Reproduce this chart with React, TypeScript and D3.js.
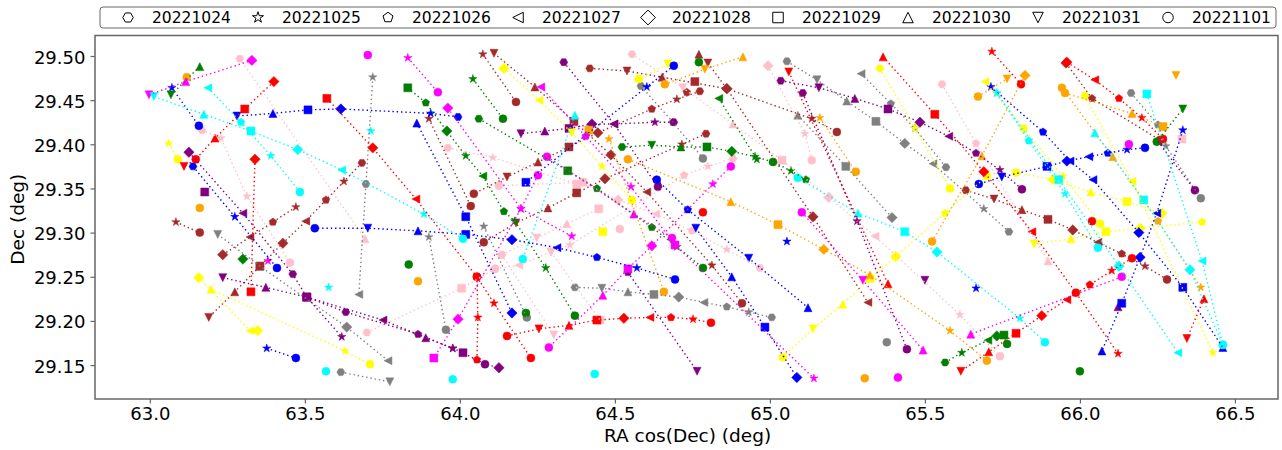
import React, { useEffect, useRef } from "react";
import * as d3 from "d3";

type Point = [number, number, number]; // [date index, RA cos(Dec), Dec]

const dates = ["20221024", "20221025", "20221026", "20221027", "20221028", "20221029", "20221030", "20221031", "20221101"];
const raTicks = [63.0, 63.5, 64.0, 64.5, 65.0, 65.5, 66.0, 66.5];
const decTicks = [29.15, 29.2, 29.25, 29.3, 29.35, 29.4, 29.45, 29.5];

const grayTracks: Point[][] = [
  [[1,63.719,29.476],[0,63.697,29.355],[3,63.674,29.230]],
  [[7,63.219,29.298],[5,63.355,29.262],[4,63.635,29.193],[3,63.768,29.155]],
  [[0,63.616,29.142],[7,63.774,29.131]],
  [[1,63.900,29.295],[8,63.955,29.190]],
  [[1,64.077,29.307],[8,64.216,29.204]],
  [[0,64.584,29.466],[2,64.687,29.425],[8,64.784,29.384]],
  [[0,64.371,29.238],[7,64.458,29.237],[6,64.542,29.233],[5,64.626,29.230],[4,64.706,29.227],[3,64.787,29.221],[2,64.861,29.216],[1,64.932,29.210],[0,65.006,29.204]],
  [[0,65.055,29.494],[7,65.152,29.473],[6,65.248,29.449],[5,65.342,29.426],[4,65.435,29.401],[3,65.526,29.378],[1,65.690,29.327],[0,65.771,29.301]],
  [[6,65.090,29.433],[5,65.245,29.375],[4,65.394,29.317]],
  [[3,65.294,29.480],[2,65.390,29.446],[1,65.468,29.418],[0,65.568,29.374]],
  [[0,66.165,29.458],[2,66.252,29.422],[1,66.277,29.398],[8,66.390,29.339]],
  [[8,65.377,29.176]],
];

const pinkTracks: Point[][] = [
  [[0,63.290,29.497],[6,63.694,29.293]],
  [[0,63.168,29.416],[1,63.229,29.407],[1,63.313,29.341],[8,63.452,29.266]],
  [[0,63.961,29.396],[1,64.106,29.385],[5,64.377,29.355]],
  [[0,64.555,29.502],[7,64.719,29.464],[6,64.881,29.423],[5,65.039,29.382],[4,65.190,29.340],[3,65.339,29.296],[1,65.613,29.207],[8,65.742,29.160]],
  [[4,64.994,29.489],[1,65.113,29.412],[8,65.135,29.382]],
  [[0,65.555,29.468],[2,65.665,29.401],[6,65.897,29.268]],
  [[0,64.968,29.260],[1,64.861,29.281],[2,64.748,29.302],[3,64.632,29.321],[4,64.510,29.337],[5,64.397,29.357],[8,64.126,29.353]],
  [[0,64.881,29.384],[1,64.800,29.375],[2,64.723,29.365],[1,64.355,29.286],[7,64.294,29.278],[3,64.190,29.263],[8,64.113,29.259]],
  [[0,63.700,29.187],[5,64.006,29.237],[8,64.113,29.259]],
  [[0,64.135,29.275],[7,64.248,29.294],[6,64.345,29.310],[5,64.448,29.327]],
  [[0,64.135,29.275],[7,64.303,29.184]],
  [[7,64.294,29.278],[5,64.452,29.201]],
  [[8,64.516,29.304]],
  [[5,66.329,29.406]],
];

const brownTracks: Point[][] = [
  [[0,63.684,29.379],[1,63.626,29.358],[2,63.568,29.337],[3,63.503,29.313],[4,63.429,29.288],[5,63.355,29.262],[6,63.274,29.233],[7,63.190,29.204]],
  [[1,63.471,29.329],[2,63.397,29.312],[3,63.323,29.295],[4,63.235,29.275]],
  [[1,63.084,29.312],[8,63.161,29.300]],
  [[1,63.900,29.429],[8,64.035,29.330]],
  [[1,64.074,29.502],[8,64.181,29.448]],
  [[7,64.110,29.503],[6,64.242,29.465],[5,64.368,29.426],[4,64.487,29.388],[3,64.603,29.346],[1,64.813,29.263],[8,64.910,29.220]],
  [[0,64.419,29.486],[7,64.539,29.483],[6,64.652,29.476],[4,64.861,29.463],[1,65.135,29.429],[8,65.216,29.414]],
  [[0,64.774,29.460],[1,64.700,29.451],[2,64.619,29.440],[4,64.445,29.413],[5,64.352,29.397],[6,64.252,29.380],[7,64.152,29.363],[8,64.045,29.344]],
  [[7,64.800,29.492],[4,64.861,29.463],[4,65.139,29.318],[3,65.316,29.221]],
  [[0,64.794,29.412],[1,64.716,29.400],[4,64.468,29.361],[5,64.377,29.345],[6,64.284,29.328],[7,64.181,29.311],[8,64.077,29.289]],
  [[4,65.955,29.492],[2,66.039,29.452],[8,66.258,29.405]],
  [[0,65.632,29.348],[7,65.723,29.338],[6,65.813,29.326],[5,65.897,29.315],[4,65.977,29.303],[3,66.058,29.289],[2,66.135,29.276],[1,66.210,29.262],[8,66.281,29.247]],
  [[6,64.771,29.502]],
  [[5,64.758,29.471]],
  [[2,64.732,29.459]],
];

const purpleTracks: Point[][] = [
  [[4,63.126,29.391],[3,63.300,29.322],[0,63.461,29.253],[5,63.506,29.227],[1,63.619,29.182]],
  [[7,63.235,29.249],[6,63.374,29.238],[5,63.506,29.227],[3,63.752,29.201],[6,63.890,29.181],[1,63.977,29.169],[5,64.010,29.164],[8,64.081,29.151],[4,64.126,29.147]],
  [[5,63.506,29.227],[0,63.632,29.210],[2,63.865,29.185],[1,63.977,29.169]],
  [[0,64.335,29.493],[3,64.497,29.423],[8,64.639,29.352]],
  [[2,64.542,29.255],[7,64.765,29.143]],
  [[0,64.690,29.425],[1,64.629,29.425],[3,64.497,29.423],[4,64.426,29.423],[5,64.352,29.418],[6,64.274,29.415],[7,64.197,29.412]],
  [[0,65.035,29.472],[7,65.158,29.464],[6,65.274,29.452],[5,65.381,29.440],[4,65.484,29.425],[3,65.577,29.409],[2,65.665,29.390],[1,65.742,29.371],[8,65.813,29.349]],
  [[0,65.106,29.458],[1,65.281,29.313],[8,65.442,29.168]],
  [[3,66.252,29.403],[8,66.371,29.348]],
  [[5,63.177,29.346]],
  [[7,65.500,29.246]],
  [[6,66.123,29.216]],
];

const yellowTracks: Point[][] = [
  [[1,63.061,29.401],[8,63.090,29.383]],
  [[4,63.158,29.249],[3,63.323,29.189]],
  [[4,63.348,29.189]],
  [[6,63.197,29.236],[1,63.629,29.166],[8,63.710,29.151]],
  [[4,64.142,29.486],[3,64.255,29.450],[7,64.361,29.413],[1,64.458,29.375],[8,64.555,29.337]],
  [[8,64.577,29.474],[7,64.671,29.491]],
  [[8,65.042,29.159],[7,65.139,29.191],[6,65.235,29.219],[5,65.323,29.248],[4,65.406,29.273],[2,65.565,29.322],[8,65.700,29.364]],
  [[0,65.355,29.486],[1,65.468,29.418],[8,65.581,29.350]],
  [[3,65.694,29.471],[0,65.819,29.418],[1,65.945,29.364],[8,66.065,29.310]],
  [[8,65.794,29.368],[4,65.913,29.360],[6,66.035,29.346],[5,66.152,29.335],[4,66.265,29.322]],
  [[0,66.016,29.455],[3,66.168,29.358],[1,66.429,29.164]],
  [[7,65.852,29.287],[6,65.971,29.293],[5,66.084,29.301],[4,66.194,29.305],[2,66.394,29.312]],
  [[5,64.461,29.301]],
];

const orangeTracks: Point[][] = [
  [[6,64.913,29.499],[7,64.790,29.485],[8,64.661,29.468]],
  [[1,65.161,29.430],[8,65.277,29.369]],
  [[8,64.542,29.383],[6,64.874,29.335],[5,65.026,29.309],[4,65.174,29.281],[6,65.323,29.252],[1,65.581,29.189],[8,65.700,29.155]],
  [[1,64.481,29.406],[8,64.658,29.233]],
  [[8,65.671,29.454],[7,65.765,29.474]],
  [[4,65.823,29.478],[6,65.684,29.387],[8,65.523,29.290]],
  [[8,65.952,29.458],[6,66.168,29.435],[5,66.268,29.420]],
  [[8,65.942,29.464],[6,66.106,29.386],[2,66.252,29.313],[1,66.390,29.238]],
  [[8,63.119,29.476]],
  [[8,63.161,29.328]],
  [[8,63.865,29.245]],
  [[5,64.416,29.416]],
  [[7,66.310,29.478]],
  [[8,65.306,29.135]],
];

const blueTracks: Point[][] = [
  [[0,63.994,29.431],[1,63.906,29.435],[4,63.616,29.440],[5,63.510,29.439],[6,63.397,29.435],[7,63.281,29.432]],
  [[1,63.071,29.464],[8,63.158,29.421]],
  [[0,63.139,29.375],[1,63.274,29.318],[8,63.410,29.260]],
  [[1,63.377,29.169],[8,63.471,29.158]],
  [[8,64.690,29.489],[1,64.603,29.465],[5,64.213,29.357]],
  [[8,64.694,29.247],[1,64.571,29.260],[2,64.442,29.272],[3,64.313,29.283],[4,64.168,29.292],[5,64.019,29.298],[6,63.865,29.302],[7,63.703,29.305],[8,63.532,29.305]],
  [[6,63.861,29.424],[5,64.019,29.318],[4,64.168,29.209]],
  [[8,64.635,29.360],[2,64.735,29.326],[7,64.932,29.271],[6,65.123,29.215]],
  [[7,64.761,29.305],[6,64.877,29.250],[5,64.984,29.193],[4,65.087,29.136]],
  [[1,65.713,29.465],[2,65.881,29.414],[3,65.968,29.381],[3,66.042,29.360],[4,66.190,29.300],[5,66.332,29.238],[6,66.461,29.170]],
  [[8,66.210,29.396],[1,66.152,29.394],[2,66.090,29.390],[3,66.029,29.386],[4,65.958,29.381],[5,65.894,29.375],[7,65.748,29.363],[8,65.674,29.355]],
  [[1,66.332,29.416],[3,66.248,29.322],[4,66.194,29.272],[5,66.135,29.220],[6,66.071,29.166]],
  [[1,65.055,29.290]],
  [[1,65.665,29.237]],
];

const greenTracks: Point[][] = [
  [[6,63.161,29.488],[7,63.068,29.456]],
  [[5,63.832,29.464],[2,63.890,29.447],[4,63.958,29.415],[1,64.019,29.387],[3,64.074,29.364],[2,64.142,29.324],[1,64.177,29.313],[1,64.277,29.260],[8,64.371,29.206]],
  [[1,64.042,29.474],[8,64.139,29.429]],
  [[0,64.061,29.429],[5,64.348,29.370],[2,64.442,29.350],[2,64.619,29.306],[1,64.700,29.284],[8,64.784,29.260]],
  [[0,64.523,29.397],[7,64.619,29.399],[6,64.713,29.397],[5,64.797,29.397],[4,64.877,29.392],[1,64.952,29.386],[8,65.010,29.380],[1,65.068,29.370],[2,65.116,29.360]],
  [[3,64.835,29.452],[1,64.958,29.383]],
  [[0,65.565,29.153],[1,65.619,29.164],[3,65.703,29.178],[4,65.732,29.183],[5,65.755,29.184],[8,65.765,29.174]],
  [[8,66.248,29.403],[7,66.332,29.440]],
  [[8,64.771,29.493]],
  [[8,66.000,29.143]],
  [[4,63.300,29.270]],
  [[8,63.835,29.264]],
  [[8,64.213,29.209]],
];

const magentaTracks: Point[][] = [
  [[7,62.997,29.456],[6,63.116,29.471],[4,63.329,29.495]],
  [[1,63.832,29.498],[8,63.929,29.459]],
  [[4,63.961,29.441],[1,64.197,29.327],[1,64.361,29.296]],
  [[3,64.261,29.465],[2,64.406,29.409],[1,64.552,29.352],[5,64.694,29.286],[1,65.142,29.135]],
  [[8,64.252,29.365],[1,64.197,29.327],[4,63.994,29.202],[5,63.916,29.158]],
  [[8,64.281,29.386],[6,64.561,29.321],[8,64.684,29.294]],
  [[8,64.874,29.375],[1,64.816,29.355],[4,64.619,29.285],[5,64.542,29.259],[6,64.461,29.229],[8,64.287,29.170]],
  [[8,65.103,29.323],[7,65.300,29.246],[6,65.494,29.167]],
  [[8,66.135,29.250],[6,65.648,29.185]],
  [[8,63.703,29.501]],
  [[1,63.381,29.268]],
  [[8,66.158,29.400]],
  [[8,65.413,29.136]],
];

const cyanTracks: Point[][] = [
  [[8,64.010,29.293],[1,63.884,29.321],[3,63.619,29.371],[4,63.477,29.394],[5,63.326,29.415],[6,63.174,29.434],[7,63.013,29.454]],
  [[3,63.187,29.464],[2,63.294,29.425],[1,63.390,29.387],[8,63.484,29.346]],
  [[8,65.090,29.362],[6,65.284,29.322],[5,65.435,29.301],[4,65.539,29.278],[1,65.806,29.203],[8,65.887,29.176]],
  [[1,65.732,29.458],[2,65.835,29.404],[1,65.952,29.344],[8,66.058,29.283]],
  [[1,65.732,29.458],[5,65.932,29.360],[4,66.126,29.262],[3,66.316,29.164]],
  [[6,66.048,29.413],[5,66.206,29.337],[4,66.355,29.258],[8,66.461,29.173]],
  [[5,66.216,29.457],[3,66.394,29.268],[8,66.461,29.173]],
  [[6,64.371,29.433],[8,64.203,29.270]],
  [[1,63.713,29.415]],
  [[8,64.435,29.140]],
  [[8,63.568,29.143]],
  [[8,63.977,29.134]],
  [[1,63.577,29.238]],
];

const redTracks: Point[][] = [
  [[4,63.400,29.471],[5,63.306,29.440],[6,63.210,29.407],[8,63.148,29.383],[7,63.110,29.375]],
  [[4,63.339,29.383],[5,63.326,29.233]],
  [[5,63.571,29.452],[4,63.719,29.396],[3,63.858,29.338],[8,64.055,29.250],[1,64.110,29.220],[8,64.229,29.158]],
  [[2,64.055,29.156],[1,64.058,29.204],[8,64.055,29.250]],
  [[8,64.152,29.183],[7,64.255,29.191],[6,64.352,29.195],[5,64.442,29.201],[4,64.529,29.203],[3,64.613,29.204],[2,64.681,29.204],[1,64.752,29.202],[8,64.810,29.198]],
  [[7,65.061,29.482],[6,65.381,29.242]],
  [[6,65.365,29.499],[5,65.532,29.434],[4,65.690,29.369],[3,65.845,29.301],[8,65.987,29.232],[1,66.123,29.163]],
  [[1,65.716,29.505],[8,65.810,29.468]],
  [[4,65.958,29.493],[3,66.048,29.473],[2,66.126,29.452],[1,66.200,29.430],[8,66.268,29.406]],
  [[8,66.168,29.271],[1,66.103,29.257],[2,66.032,29.241],[3,65.958,29.224],[4,65.877,29.206],[5,65.794,29.186],[6,65.706,29.165],[7,65.616,29.143]],
  [[6,66.400,29.225],[7,66.345,29.180]],
  [[8,64.784,29.323]],
  [[8,66.039,29.313]],
];

const colorGroups: [string, Point[][]][] = [
  ["gray", grayTracks],
  ["pink", pinkTracks],
  ["brown", brownTracks],
  ["purple", purpleTracks],
  ["yellow", yellowTracks],
  ["orange", orangeTracks],
  ["blue", blueTracks],
  ["green", greenTracks],
  ["magenta", magentaTracks],
  ["cyan", cyanTracks],
  ["red", redTracks],
];

const FONT = "'DejaVu Sans', sans-serif";
const SPINE = "#666";

function polygon(n: number, r: number, start: number) {
  const pts = d3.range(n).map((i) => {
    const a = start + (i * 2 * Math.PI) / n;
    return [r * Math.cos(a), r * Math.sin(a)];
  });
  return "M" + pts.map((p) => p.join(",")).join("L") + "Z";
}

// same shape order as the legend: H * p < D s ^ v o
function markerPath(idx: number, ms: number, diamondScale = 1.3) {
  const r = ms / 2;
  switch (idx) {
    case 0:
      return polygon(6, r, 0);
    case 1: {
      const pts = d3.range(10).map((i) => {
        const a = -Math.PI / 2 + (i * Math.PI) / 5;
        const rr = i % 2 === 0 ? r * 1.1 : r * 0.42;
        return [rr * Math.cos(a), rr * Math.sin(a)];
      });
      return "M" + pts.map((p) => p.join(",")).join("L") + "Z";
    }
    case 2:
      return polygon(5, r, -Math.PI / 2);
    case 3:
      return `M${-r},0L${r},${-r}L${r},${r}Z`;
    case 4:
      return polygon(4, r * diamondScale, 0);
    case 5:
      return `M${-r},${-r}L${r},${-r}L${r},${r}L${-r},${r}Z`;
    case 6:
      return `M0,${-r}L${r},${r}L${-r},${r}Z`;
    case 7:
      return `M0,${r}L${r},${-r}L${-r},${-r}Z`;
    default:
      return d3.arc()({ innerRadius: 0, outerRadius: r, startAngle: 0, endAngle: 2 * Math.PI }) as string;
  }
}

export default function App() {
  const ref = useRef<SVGSVGElement>(null);

  useEffect(() => {
    const svg = d3.select(ref.current);
    svg.selectAll("*").remove();

    const left = 95;
    const right = 1278;
    const top = 35.5;
    const bottom = 399;

    const x = d3.scaleLinear().domain([62.823, 66.639]).range([left, right]);
    const y = d3.scaleLinear().domain([29.1116, 29.5232]).range([bottom, top]);

    // Markers sit under every line, like matplotlib's default zorder
    const markers = svg.append("g");
    const lines = svg.append("g");
    const line = d3
      .line<Point>()
      .x((d) => x(d[1]))
      .y((d) => y(d[2]));

    colorGroups.forEach(([color, tracks]) => {
      tracks.forEach((track) => {
        markers
          .selectAll(null)
          .data(track)
          .enter()
          .append("path")
          .attr("d", (d) => markerPath(d[0], 8))
          .attr("transform", (d) => `translate(${x(d[1])},${y(d[2])})`)
          .attr("fill", color)
          .attr("stroke", color)
          .attr("stroke-width", 0.5);
        if (track.length > 1) {
          lines
            .append("path")
            .attr("d", line(track))
            .attr("fill", "none")
            .attr("stroke", color)
            .attr("stroke-width", 1.4)
            .attr("stroke-dasharray", "1.4 2.9");
        }
      });
    });

    // Axes
    const xAxis = svg
      .append("g")
      .attr("transform", `translate(0,${bottom})`)
      .call(d3.axisBottom(x).tickValues(raTicks).tickFormat(d3.format(".1f")).tickSize(4.5).tickPadding(4));
    const yAxis = svg
      .append("g")
      .attr("transform", `translate(${left},0)`)
      .call(d3.axisLeft(y).tickValues(decTicks).tickFormat(d3.format(".2f")).tickSize(4.5).tickPadding(5));
    yAxis.selectAll("text").attr("dy", "0.39em");
    [xAxis, yAxis].forEach((axis) => {
      axis.select(".domain").remove();
      axis.selectAll("line").attr("stroke", SPINE).attr("stroke-width", 1.2);
      axis.selectAll("text").attr("fill", "#000").style("font-family", FONT).style("font-size", "18.05px");
    });

    svg
      .append("rect")
      .attr("x", left)
      .attr("y", top)
      .attr("width", right - left)
      .attr("height", bottom - top)
      .attr("fill", "none")
      .attr("stroke", SPINE)
      .attr("stroke-width", 1.5);

    svg
      .append("text")
      .attr("x", 687.5)
      .attr("y", 441.5)
      .attr("text-anchor", "middle")
      .style("font-family", FONT)
      .style("font-size", "18.5px")
      .text("RA cos(Dec) (deg)");
    svg
      .append("text")
      .attr("transform", `translate(24,${(top + bottom) / 2 + 2}) rotate(-90)`)
      .attr("text-anchor", "middle")
      .style("font-family", FONT)
      .style("font-size", "18.5px")
      .text("Dec (deg)");

    // Legend
    svg
      .append("rect")
      .attr("x", 100)
      .attr("y", 7)
      .attr("width", 1176)
      .attr("height", 21)
      .attr("rx", 3)
      .attr("fill", "#fff")
      .attr("stroke", SPINE)
      .attr("stroke-width", 1);
    const legend = svg
      .selectAll("g.legend-item")
      .data(dates)
      .enter()
      .append("g")
      .attr("class", "legend-item")
      .attr("transform", (_, i) => `translate(${128 + i * 130},17.5)`);
    legend
      .append("path")
      .attr("d", (_, i) => markerPath(i, 10.5, 1.41))
      .attr("fill", "none")
      .attr("stroke", "#000")
      .attr("stroke-width", 1);
    legend
      .append("text")
      .attr("x", 24)
      .attr("y", 5.5)
      .style("font-family", FONT)
      .style("font-size", "15.5px")
      .text((d) => d);
  }, []);

  return (
    <svg
      ref={ref}
      width={1282}
      height={450}
      style={{ position: "absolute", left: 0, top: 0, background: "#fff" }}
    />
  );
}
